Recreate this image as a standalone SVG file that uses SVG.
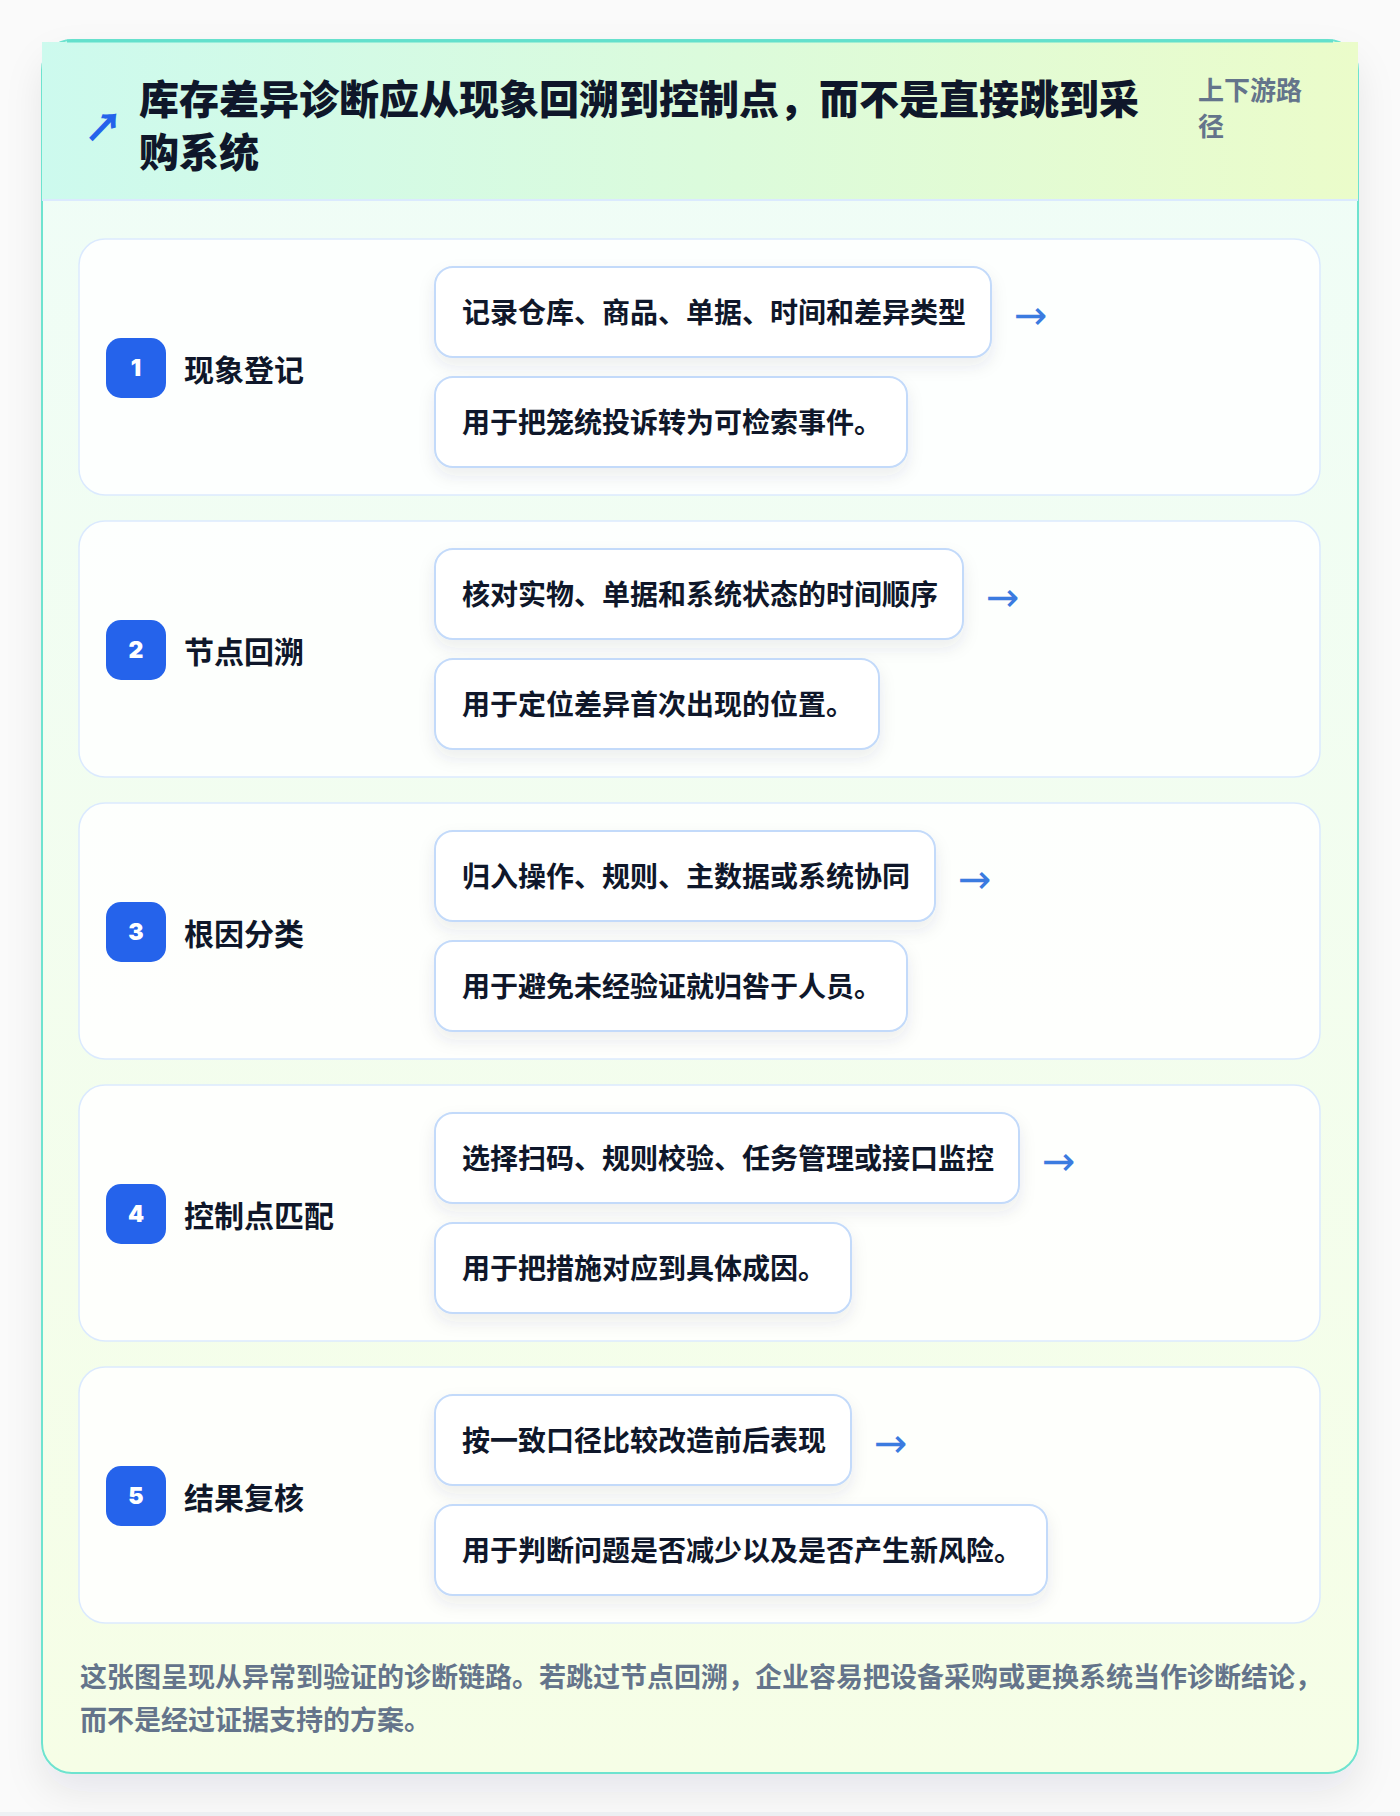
<svg xmlns="http://www.w3.org/2000/svg" width="1400" height="1816" viewBox="0 0 1400 1816">
<defs>
<linearGradient id="cardBg" x1="0" y1="0" x2="0" y2="1">
<stop offset="0" stop-color="#effdf8"/>
<stop offset="1" stop-color="#f6fee6"/>
</linearGradient>
<linearGradient id="headBg" x1="0" y1="0" x2="1" y2="0">
<stop offset="0" stop-color="#cdfaee"/>
<stop offset="0.5" stop-color="#dbfbdc"/>
<stop offset="1" stop-color="#ebfcca"/>
</linearGradient>
<filter id="cardShadow" x="-10%" y="-10%" width="120%" height="125%">
<feDropShadow dx="0" dy="18" stdDeviation="18" flood-color="#1e293b" flood-opacity="0.08"/>
</filter>
<filter id="boxShadow" x="-10%" y="-20%" width="120%" height="160%">
<feDropShadow dx="0" dy="8" stdDeviation="8" flood-color="#334155" flood-opacity="0.09"/>
</filter>
<style>
.panel{fill:#ffffff;fill-opacity:0.86;stroke:#dbeafe;stroke-width:1.5}
.box{fill:#ffffff;stroke:#c3dafa;stroke-width:2}
.badge{fill:#2563eb}
.num{font-family:Inter,"Liberation Sans",sans-serif;font-size:23px;font-weight:900;fill:#ffffff;text-anchor:middle;dominant-baseline:central}
.label{font-family:"Noto Sans CJK SC",sans-serif;font-size:30px;font-weight:700;fill:#0f172a;dominant-baseline:central}
.btext{font-family:"Noto Sans CJK SC",sans-serif;font-size:28px;font-weight:700;fill:#0f172a;dominant-baseline:central}
.arrow{font-family:"DejaVu Sans",sans-serif;font-size:40px;fill:#3b7be0;dominant-baseline:central}
.title{font-family:"Noto Sans CJK SC",sans-serif;font-size:40px;font-weight:800;fill:#0f172a;dominant-baseline:central}
.side{font-family:"Noto Sans CJK SC",sans-serif;font-size:26px;font-weight:700;fill:#64748b;dominant-baseline:central}
.foot{font-family:"Noto Sans CJK SC",sans-serif;font-size:27px;font-weight:700;fill:#64748b;dominant-baseline:central}
</style>
</defs>
<rect x="0" y="0" width="1400" height="1816" fill="#fafafa"/>
<rect x="0" y="1812" width="1400" height="4" fill="#eef1f4"/>
<g id="card">
<rect x="42" y="40" width="1316" height="1733" rx="30" fill="url(#cardBg)" stroke="#6ee3cf" stroke-width="2" filter="url(#cardShadow)"/>
</g>
<g id="header">
<rect x="42" y="42" width="1316" height="158" fill="url(#headBg)"/>
<line x1="67" y1="41" x2="1333" y2="41" stroke="#63e0cc" stroke-width="3"/>
<line x1="42" y1="200" x2="1358" y2="200" stroke="#dbeafe" stroke-width="2"/>
<text x="84" y="124" font-family="'Noto Sans CJK SC',sans-serif" font-size="39" font-weight="800" fill="#2563eb" dominant-baseline="central">↗</text>
<text class="title" x="139" y="97">库存差异诊断应从现象回溯到控制点，而不是直接跳到采</text>
<text class="title" x="139" y="150">购系统</text>
<text class="side" x="1198" y="88">上下游路</text>
<text class="side" x="1198" y="124">径</text>
</g>
<g id="step1">
<rect class="panel" x="79" y="239" width="1241" height="256" rx="26"/>
<rect class="badge" x="106" y="338" width="60" height="60" rx="15"/>
<text class="num" x="136" y="368">1</text>
<text class="label" x="184" y="368">现象登记</text>
<rect class="box" x="435" y="267" width="556" height="90" rx="18" filter="url(#boxShadow)"/>
<text class="btext" x="462" y="311">记录仓库、商品、单据、时间和差异类型</text>
<rect class="box" x="435" y="377" width="472" height="90" rx="18" filter="url(#boxShadow)"/>
<text class="btext" x="462" y="421">用于把笼统投诉转为可检索事件。</text>
</g>
<g id="step2">
<rect class="panel" x="79" y="521" width="1241" height="256" rx="26"/>
<rect class="badge" x="106" y="620" width="60" height="60" rx="15"/>
<text class="num" x="136" y="650">2</text>
<text class="label" x="184" y="650">节点回溯</text>
<rect class="box" x="435" y="549" width="528" height="90" rx="18" filter="url(#boxShadow)"/>
<text class="btext" x="462" y="593">核对实物、单据和系统状态的时间顺序</text>
<rect class="box" x="435" y="659" width="444" height="90" rx="18" filter="url(#boxShadow)"/>
<text class="btext" x="462" y="703">用于定位差异首次出现的位置。</text>
</g>
<g id="step3">
<rect class="panel" x="79" y="803" width="1241" height="256" rx="26"/>
<rect class="badge" x="106" y="902" width="60" height="60" rx="15"/>
<text class="num" x="136" y="932">3</text>
<text class="label" x="184" y="932">根因分类</text>
<rect class="box" x="435" y="831" width="500" height="90" rx="18" filter="url(#boxShadow)"/>
<text class="btext" x="462" y="875">归入操作、规则、主数据或系统协同</text>
<rect class="box" x="435" y="941" width="472" height="90" rx="18" filter="url(#boxShadow)"/>
<text class="btext" x="462" y="985">用于避免未经验证就归咎于人员。</text>
</g>
<g id="step4">
<rect class="panel" x="79" y="1085" width="1241" height="256" rx="26"/>
<rect class="badge" x="106" y="1184" width="60" height="60" rx="15"/>
<text class="num" x="136" y="1214">4</text>
<text class="label" x="184" y="1214">控制点匹配</text>
<rect class="box" x="435" y="1113" width="584" height="90" rx="18" filter="url(#boxShadow)"/>
<text class="btext" x="462" y="1157">选择扫码、规则校验、任务管理或接口监控</text>
<rect class="box" x="435" y="1223" width="416" height="90" rx="18" filter="url(#boxShadow)"/>
<text class="btext" x="462" y="1267">用于把措施对应到具体成因。</text>
</g>
<g id="step5">
<rect class="panel" x="79" y="1367" width="1241" height="256" rx="26"/>
<rect class="badge" x="106" y="1466" width="60" height="60" rx="15"/>
<text class="num" x="136" y="1496">5</text>
<text class="label" x="184" y="1496">结果复核</text>
<rect class="box" x="435" y="1395" width="416" height="90" rx="18" filter="url(#boxShadow)"/>
<text class="btext" x="462" y="1439">按一致口径比较改造前后表现</text>
<rect class="box" x="435" y="1505" width="612" height="90" rx="18" filter="url(#boxShadow)"/>
<text class="btext" x="462" y="1549">用于判断问题是否减少以及是否产生新风险。</text>
</g>
<g id="connectors">
<text class="arrow" x="1014" y="315">→</text>
<text class="arrow" x="986" y="597">→</text>
<text class="arrow" x="958" y="879">→</text>
<text class="arrow" x="1042" y="1161">→</text>
<text class="arrow" x="874" y="1443">→</text>
</g>
<g id="footer">
<text class="foot" x="80" y="1675">这张图呈现从异常到验证的诊断链路。若跳过节点回溯，企业容易把设备采购或更换系统当作诊断结论，</text>
<text class="foot" x="80" y="1718">而不是经过证据支持的方案。</text>
</g>
</svg>
